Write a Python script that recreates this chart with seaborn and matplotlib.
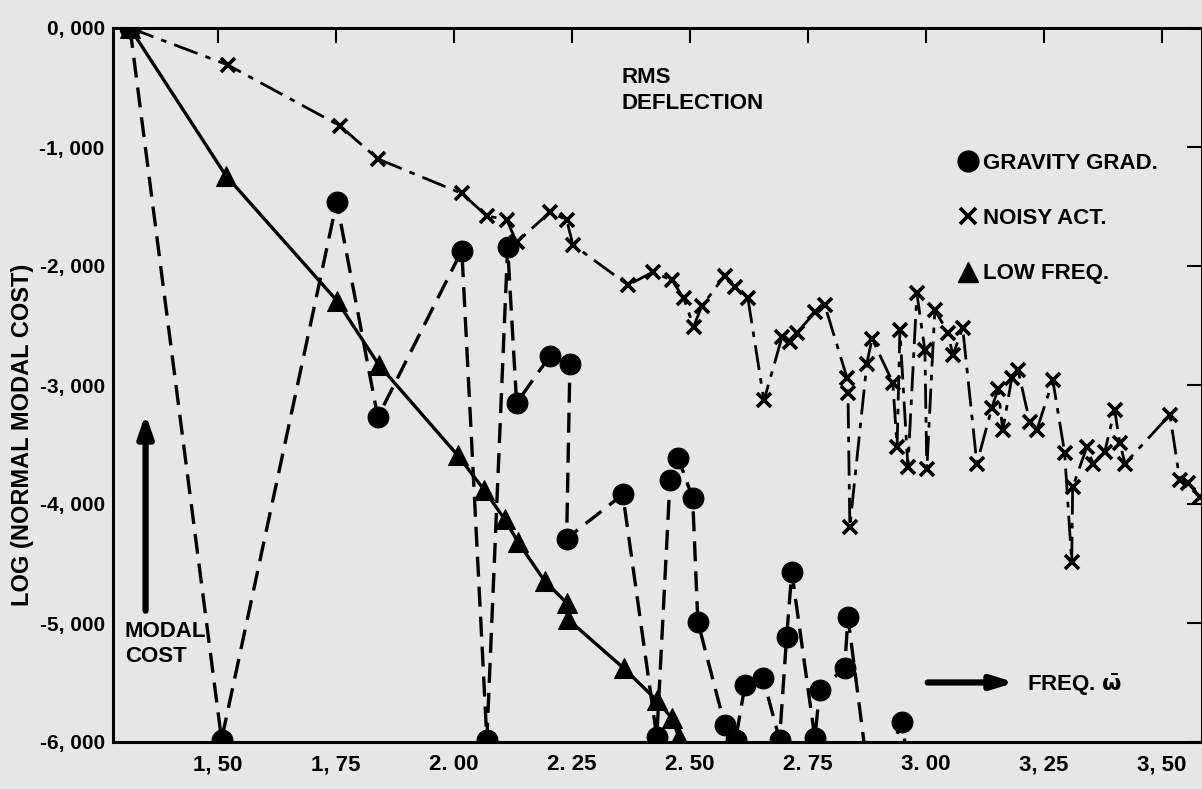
import matplotlib
matplotlib.use('Agg')
import matplotlib.pyplot as plt
from matplotlib.lines import Line2D
import numpy as np
import pandas as pd
import seaborn as sns

# values
grav_freq = [1.314, 1.508, 1.752, 1.839, 2.017, 2.070, 2.114, 2.133, 2.203, 2.246,
             2.239, 2.358, 2.430, 2.458, 2.475, 2.506, 2.517, 2.574, 2.597, 2.617,
             2.655, 2.690, 2.705, 2.716, 2.765, 2.775, 2.828, 2.835, 2.885, 2.949, 2.975]
grav_cost = [0.00, -5.98, -1.46, -3.27, -1.87, -5.98, -1.84, -3.15, -2.76, -2.82,
             -4.29, -3.92, -5.96, -3.80, -3.61, -3.95, -4.99, -5.86, -5.98, -5.52,
             -5.46, -5.98, -5.12, -4.57, -5.97, -5.56, -5.38, -4.95, -6.50, -5.83, -6.50]

noisy_freq = [1.314, 1.521, 1.758, 1.839, 2.017, 2.070, 2.112, 2.133, 2.203, 2.239,
              2.252, 2.369, 2.422, 2.462, 2.487, 2.508, 2.525, 2.574, 2.595, 2.623,
              2.657, 2.695, 2.712, 2.727, 2.765, 2.786, 2.833, 2.835, 2.839, 2.875,
              2.886, 2.930, 2.939, 2.945, 2.962, 2.981, 2.998, 3.002, 3.019, 3.047,
              3.057, 3.078, 3.108, 3.140, 3.153, 3.163, 3.182, 3.195, 3.220, 3.235,
              3.269, 3.294, 3.309, 3.311, 3.341, 3.354, 3.379, 3.400, 3.411, 3.422,
              3.517, 3.538, 3.555, 3.581]
noisy_cost = [0.00, -0.31, -0.82, -1.10, -1.39, -1.58, -1.61, -1.80, -1.55, -1.61,
              -1.82, -2.16, -2.05, -2.12, -2.27, -2.51, -2.34, -2.08, -2.18, -2.27,
              -3.13, -2.60, -2.64, -2.56, -2.39, -2.33, -2.94, -3.07, -4.19, -2.82,
              -2.61, -2.98, -3.52, -2.54, -3.69, -2.23, -2.71, -3.71, -2.37, -2.56,
              -2.75, -2.52, -3.66, -3.19, -3.03, -3.38, -2.94, -2.87, -3.31, -3.38,
              -2.96, -3.57, -4.49, -3.86, -3.52, -3.66, -3.56, -3.21, -3.49, -3.66,
              -3.25, -3.80, -3.82, -3.94]

low_freq = [1.314, 1.517, 1.752, 1.841, 2.008, 2.064, 2.108, 2.136, 2.193, 2.239,
            2.242, 2.360, 2.430, 2.462, 2.477]
low_cost = [0.00, -1.24, -2.29, -2.83, -3.59, -3.88, -4.13, -4.32, -4.65, -4.83,
            -4.97, -5.38, -5.65, -5.80, -5.96]

xticks = [1.50, 1.75, 2.00, 2.25, 2.50, 2.75, 3.00, 3.25, 3.50]
xtick_labels = ['1, 50', '1, 75', '2. 00', '2. 25', '2. 50', '2. 75', '3. 00', '3, 25', '3, 50']
yticks = [0, -1, -2, -3, -4, -5, -6]
ytick_labels = ['0, 000', '-1, 000', '-2, 000', '-3, 000', '-4, 000', '-5, 000', '-6, 000']

sns.set_style("white")
plt.rcParams['font.family'] = ['Liberation Sans', 'DejaVu Sans']
plt.rcParams['font.weight'] = 'bold'
plt.rcParams['text.color'] = 'black'
plt.rcParams['axes.labelcolor'] = 'black'
plt.rcParams['mathtext.default'] = 'bf'

bg = '#e6e6e6'
fig = plt.figure(figsize=(12.02, 7.89), dpi=100, facecolor=bg)
ax = fig.add_axes([113 / 1202, 1 - 742 / 789, (1202 - 113) / 1202, (742 - 28) / 789])
ax.set_facecolor(bg)

df_grav = pd.DataFrame({'freq': grav_freq, 'cost': grav_cost})
df_noisy = pd.DataFrame({'freq': noisy_freq, 'cost': noisy_cost})
df_low = pd.DataFrame({'freq': low_freq, 'cost': low_cost})

# gravity gradient - dashed with filled circles
sns.lineplot(data=df_grav, x='freq', y='cost', sort=False, estimator=None, ax=ax,
             color='black', linewidth=2.4, marker='o', markersize=15,
             markeredgecolor='black', markerfacecolor='black')
ax.get_lines()[-1].set_dashes((6, 3))

# noisy actuator - dash dot with x
sns.lineplot(data=df_noisy, x='freq', y='cost', sort=False, estimator=None, ax=ax,
             color='black', linewidth=2.0, marker='x', markersize=10,
             markeredgecolor='black', markeredgewidth=2.6)
ax.get_lines()[-1].set_dashes((9, 3, 2, 3))

# low frequency - solid with triangles
sns.lineplot(data=df_low, x='freq', y='cost', sort=False, estimator=None, ax=ax,
             color='black', linewidth=2.4, marker='^', markersize=14,
             markeredgecolor='black', markerfacecolor='black')

ax.set_xlim(1.278, 3.585)
ax.set_ylim(-6.0, 0.0)
ax.set_xticks(xticks)
ax.set_xticklabels(xtick_labels)
ax.set_yticks(yticks)
ax.set_yticklabels(ytick_labels)
ax.tick_params(axis='both', direction='in', length=11, width=1.5, labelsize=15,
               top=True, right=True, colors='black')
ax.tick_params(axis='x', pad=9, labelsize=16)
ax.tick_params(axis='y', pad=6)
for s in ax.spines.values():
    s.set_linewidth(2.2)
    s.set_color('black')

ax.set_xlabel('')
ax.set_ylabel('LOG (NORMAL MODAL COST)', fontsize=17, fontweight='bold')
ax.yaxis.set_label_coords(-0.0725, 0.43)

# annotations
ax.text(2.356, -0.33, 'RMS\nDEFLECTION', fontsize=16, fontweight='bold',
        va='top', ha='left', linespacing=1.3)
ax.annotate('', xy=(1.347, -3.22), xytext=(1.347, -4.92),
            arrowprops=dict(arrowstyle='-|>,head_width=0.45,head_length=1.3',
                            lw=4.5, color='black'))
ax.text(1.303, -4.98, 'MODAL\nCOST', fontsize=16, fontweight='bold',
        va='top', ha='left', linespacing=1.25)
ax.annotate('', xy=(3.195, -5.50), xytext=(2.998, -5.50),
            arrowprops=dict(arrowstyle='-|>,head_width=0.4,head_length=1.3',
                            lw=4.5, color='black'))
ax.text(3.215, -5.52, 'FREQ. $\\bar{\\omega}$', fontsize=16, fontweight='bold',
        va='center', ha='left')

handles = [
    Line2D([], [], linestyle='none', marker='o', markersize=15, color='black'),
    Line2D([], [], linestyle='none', marker='x', markersize=11,
           markeredgewidth=2.6, color='black'),
    Line2D([], [], linestyle='none', marker='^', markersize=15, color='black'),
]
ax.legend(handles, ['GRAVITY GRAD.', 'NOISY ACT.', 'LOW FREQ.'],
          loc='upper left', bbox_to_anchor=(0.77, 0.838), frameon=False,
          fontsize=16, handlelength=0.7, handletextpad=0.3, labelspacing=1.55,
          borderaxespad=0)

plt.savefig('out.png', dpi=100, facecolor=bg)
